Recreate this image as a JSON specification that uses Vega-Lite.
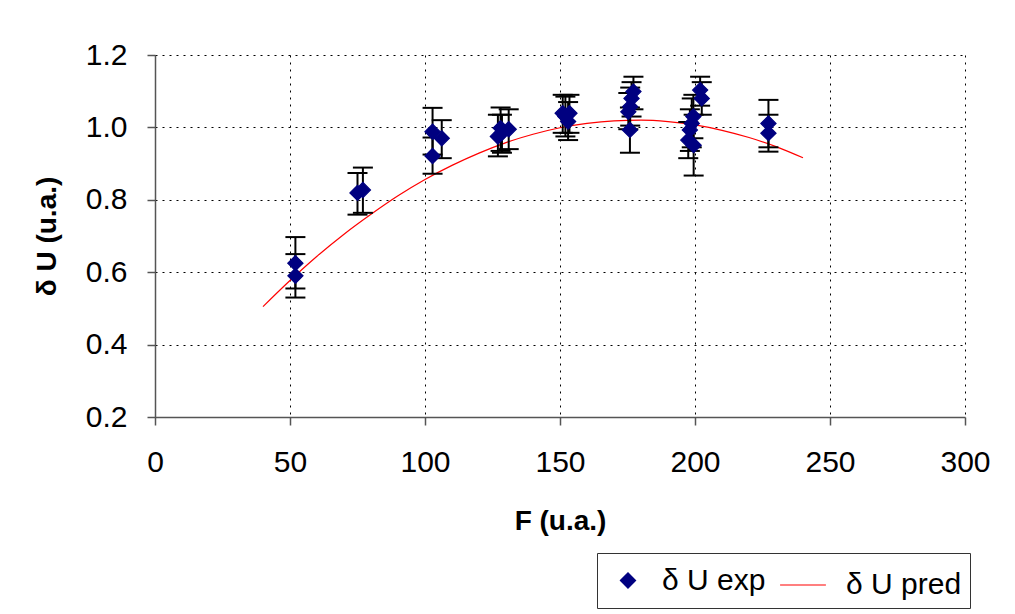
{
  "$schema": "https://vega.github.io/schema/vega-lite/v6.json",
  "width": 810,
  "height": 362,
  "autosize": "none",
  "padding": {"left": 155, "top": 55, "right": 50, "bottom": 197},
  "background": "white",
  "config": {
    "view": {"stroke": null},
    "font": "Liberation Sans",
    "axis": {
      "labelFont": "Liberation Sans",
      "labelFontSize": 30,
      "labelColor": "#000",
      "titleFont": "Liberation Sans",
      "titleFontSize": 28,
      "titleFontWeight": "bold",
      "titleColor": "#000",
      "domainColor": "#555",
      "domainWidth": 1.5,
      "tickColor": "#555",
      "tickSize": 8,
      "tickWidth": 1.5,
      "gridColor": "#000",
      "gridDash": [2, 5],
      "gridWidth": 1,
      "gridOpacity": 1
    }
  },
  "datasets": {
    "exp": [
      {"F": 52.0, "dU": 0.625, "lo": 0.555, "hi": 0.697, "s": "δ U exp"},
      {"F": 52.0, "dU": 0.59, "lo": 0.53, "hi": 0.65, "s": "δ U exp"},
      {"F": 75.0, "dU": 0.819, "lo": 0.759, "hi": 0.874, "s": "δ U exp"},
      {"F": 77.0, "dU": 0.827, "lo": 0.764, "hi": 0.889, "s": "δ U exp"},
      {"F": 102.8, "dU": 0.988, "lo": 0.925, "hi": 1.054, "s": "δ U exp"},
      {"F": 106.2, "dU": 0.97, "lo": 0.915, "hi": 1.02, "s": "δ U exp"},
      {"F": 102.8, "dU": 0.921, "lo": 0.872, "hi": 0.972, "s": "δ U exp"},
      {"F": 127.0, "dU": 0.975, "lo": 0.92, "hi": 1.035, "s": "δ U exp"},
      {"F": 128.0, "dU": 0.998, "lo": 0.935, "hi": 1.055, "s": "δ U exp"},
      {"F": 131.0, "dU": 0.995, "lo": 0.94, "hi": 1.05, "s": "δ U exp"},
      {"F": 128.5, "dU": 0.985, "lo": 0.93, "hi": 1.035, "s": "δ U exp"},
      {"F": 151.0, "dU": 1.039, "lo": 0.985, "hi": 1.09, "s": "δ U exp"},
      {"F": 152.0, "dU": 1.03, "lo": 0.975, "hi": 1.085, "s": "δ U exp"},
      {"F": 153.0, "dU": 1.016, "lo": 0.965, "hi": 1.07, "s": "δ U exp"},
      {"F": 153.5, "dU": 1.039, "lo": 0.985, "hi": 1.09, "s": "δ U exp"},
      {"F": 177.2, "dU": 1.099, "lo": 1.05, "hi": 1.14, "s": "δ U exp"},
      {"F": 176.5, "dU": 1.08, "lo": 1.03, "hi": 1.125, "s": "δ U exp"},
      {"F": 176.0, "dU": 1.057, "lo": 1.005, "hi": 1.11, "s": "δ U exp"},
      {"F": 175.3, "dU": 1.043, "lo": 0.995, "hi": 1.095, "s": "δ U exp"},
      {"F": 175.9, "dU": 0.993, "lo": 0.93, "hi": 1.055, "s": "δ U exp"},
      {"F": 201.9, "dU": 1.103, "lo": 1.06, "hi": 1.14, "s": "δ U exp"},
      {"F": 202.5, "dU": 1.08, "lo": 1.035, "hi": 1.125, "s": "δ U exp"},
      {"F": 199.4, "dU": 1.03, "lo": 0.97, "hi": 1.09, "s": "δ U exp"},
      {"F": 198.8, "dU": 1.011, "lo": 0.945, "hi": 1.08, "s": "δ U exp"},
      {"F": 198.1, "dU": 0.993, "lo": 0.935, "hi": 1.05, "s": "δ U exp"},
      {"F": 197.5, "dU": 0.965, "lo": 0.915, "hi": 1.015, "s": "δ U exp"},
      {"F": 199.5, "dU": 0.951, "lo": 0.867, "hi": 1.035, "s": "δ U exp"},
      {"F": 227.2, "dU": 1.011, "lo": 0.945, "hi": 1.076, "s": "δ U exp"},
      {"F": 227.2, "dU": 0.984, "lo": 0.933, "hi": 1.035, "s": "δ U exp"}
    ],
    "pred": [
      {"F": 40, "dU": 0.505},
      {"F": 50, "dU": 0.577},
      {"F": 60, "dU": 0.644},
      {"F": 70, "dU": 0.705},
      {"F": 80, "dU": 0.760},
      {"F": 90, "dU": 0.811},
      {"F": 100, "dU": 0.856},
      {"F": 110, "dU": 0.895},
      {"F": 120, "dU": 0.929},
      {"F": 130, "dU": 0.958},
      {"F": 140, "dU": 0.981},
      {"F": 150, "dU": 0.999},
      {"F": 160, "dU": 1.011},
      {"F": 170, "dU": 1.018},
      {"F": 180, "dU": 1.020},
      {"F": 190, "dU": 1.016},
      {"F": 200, "dU": 1.007},
      {"F": 210, "dU": 0.992},
      {"F": 220, "dU": 0.972},
      {"F": 230, "dU": 0.947},
      {"F": 240, "dU": 0.916}
    ]
  },
  "encoding": {
    "x": {
      "field": "F",
      "type": "quantitative",
      "scale": {"domain": [0, 300], "nice": false, "zero": false},
      "axis": {"values": [0, 50, 100, 150, 200, 250, 300], "title": "F (u.a.)", "labelPadding": 22, "titlePadding": 30, "labelFlush": false}
    },
    "y": {
      "field": "dU",
      "type": "quantitative",
      "scale": {"domain": [0.2, 1.2], "nice": false, "zero": false},
      "axis": {"values": [0.2, 0.4, 0.6, 0.8, 1.0, 1.2], "format": ".1f", "title": "δ U (u.a.)", "labelPadding": 20, "titlePadding": 24, "labelFlush": false}
    }
  },
  "layer": [
    {
      "data": {"name": "pred"},
      "mark": {"type": "line", "color": "#ff0000", "strokeWidth": 1.2, "interpolate": "monotone"},
      "encoding": {}
    },
    {
      "data": {"name": "exp"},
      "mark": {"type": "rule", "color": "#000", "strokeWidth": 2},
      "encoding": {"y": {"field": "lo", "type": "quantitative"}, "y2": {"field": "hi"}}
    },
    {
      "data": {"name": "exp"},
      "mark": {"type": "tick", "orient": "horizontal", "color": "#000", "size": 20, "thickness": 2, "opacity": 1},
      "encoding": {"y": {"field": "lo", "type": "quantitative"}}
    },
    {
      "data": {"name": "exp"},
      "mark": {"type": "tick", "orient": "horizontal", "color": "#000", "size": 20, "thickness": 2, "opacity": 1},
      "encoding": {"y": {"field": "hi", "type": "quantitative"}}
    },
    {
      "data": {"name": "exp"},
      "mark": {"type": "point", "filled": true, "opacity": 1, "strokeWidth": 1.2},
      "encoding": {
        "fill": {
          "field": "s",
          "type": "nominal",
          "scale": {"domain": ["δ U exp", "δ U pred"], "range": ["#000080", "transparent"]},
          "legend": {
            "orient": "none",
            "legendX": 442,
            "legendY": 498,
            "direction": "horizontal",
            "title": null,
            "strokeColor": "#333",
            "fillColor": "#fff",
            "padding": 8,
            "labelFont": "Liberation Sans",
            "labelFontSize": 30,
            "labelColor": "#000",
            "labelLimit": 300,
            "columnPadding": 5,
            "labelOffset": 19,
            "symbolOffset": 8,
            "symbolStrokeWidth": 1.2,
            "symbolOpacity": 1
          }
        },
        "stroke": {
          "field": "s",
          "type": "nominal",
          "scale": {"domain": ["δ U exp", "δ U pred"], "range": ["#000080", "#ff0000"]}
        },
        "shape": {
          "field": "s",
          "type": "nominal",
          "scale": {"domain": ["δ U exp", "δ U pred"], "range": ["diamond", "stroke"]}
        },
        "size": {
          "field": "s",
          "type": "nominal",
          "scale": {"type": "ordinal", "domain": ["δ U exp", "δ U pred"], "range": [230, 2100]}
        }
      }
    }
  ]
}
